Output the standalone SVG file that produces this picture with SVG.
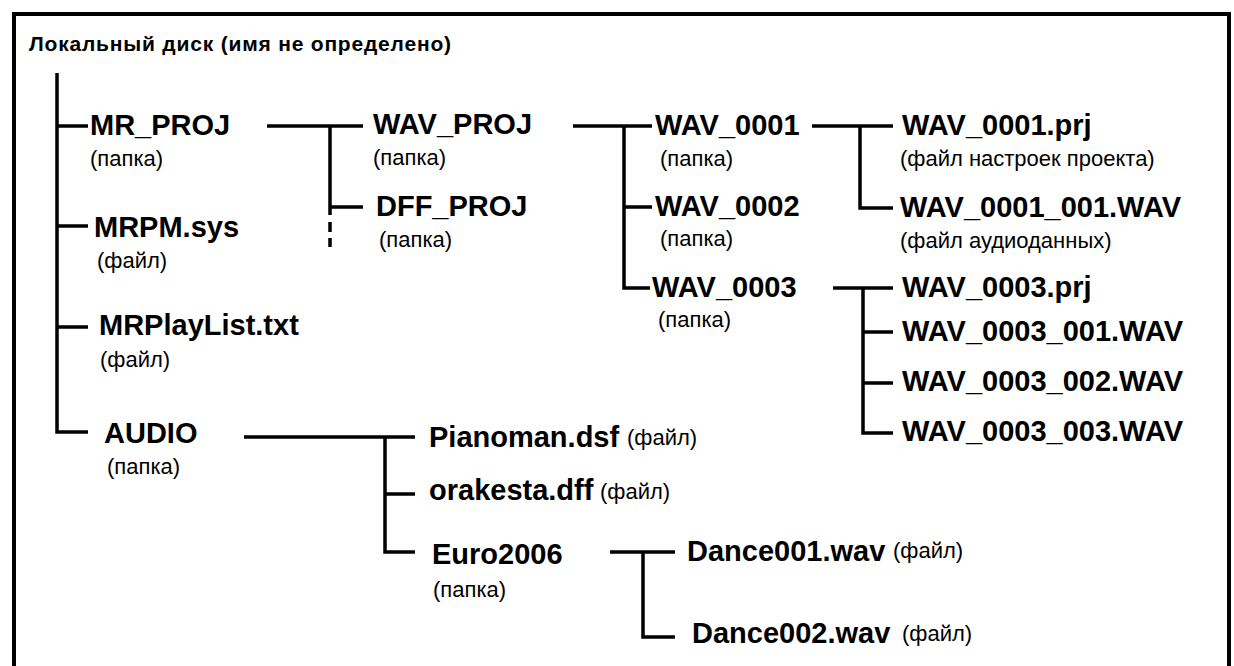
<svg xmlns="http://www.w3.org/2000/svg" width="1234" height="666" viewBox="0 0 1234 666">
<style>
.frame{fill:#fff;stroke:#000;stroke-width:4}
.ln{fill:none;stroke:#000;stroke-width:3.5;stroke-linejoin:miter;stroke-linecap:butt}
.title{font-family:"Liberation Sans",Arial,sans-serif;font-weight:bold;font-size:21px;letter-spacing:0.8px;fill:#000}
.nm{font-family:"Liberation Sans",Arial,sans-serif;font-weight:bold;font-size:29px;fill:#000}
.sub{font-family:"Liberation Sans",Arial,sans-serif;font-size:22px;fill:#000}
</style>
<rect class="frame" x="14" y="14" width="1215" height="700"/>
<text class="title" x="29" y="51">Локальный диск (имя не определено)</text>
<g id="connectors">
<path class="ln" d="M57,73 V432 H88 M57,126 H88 M57,226 H88 M57,327 H88"/>
<path class="ln" d="M267,126 H363 M330,126 V207 H363 M330,207 V215 M330,222 V232 M330,238 V247"/>
<path class="ln" d="M573,126 H652 M624,126 V288 H650 M624,207 H652"/>
<path class="ln" d="M812,126 H893 M860,126 V208 H893"/>
<path class="ln" d="M833,288 H893 M863,288 V433 H893 M863,332 H893 M863,383 H893"/>
<path class="ln" d="M244,437 H415 M385,437 V552 H415 M385,494 H415"/>
<path class="ln" d="M610,552 H675 M643,552 V637 H675"/>
</g>
<g id="mr_proj"><text class="nm" x="90" y="135">MR_PROJ</text><text class="sub" x="90" y="166">(папка)</text></g>
<g id="mrpm_sys"><text class="nm" x="94" y="237">MRPM.sys</text><text class="sub" x="97" y="268">(файл)</text></g>
<g id="mrplaylist"><text class="nm" x="99" y="335">MRPlayList.txt</text><text class="sub" x="100" y="367">(файл)</text></g>
<g id="audio"><text class="nm" x="104" y="443">AUDIO</text><text class="sub" x="107" y="474">(папка)</text></g>
<g id="wav_proj"><text class="nm" x="373" y="134">WAV_PROJ</text><text class="sub" x="373" y="165">(папка)</text></g>
<g id="dff_proj"><text class="nm" x="376" y="216">DFF_PROJ</text><text class="sub" x="379" y="247">(папка)</text></g>
<g id="wav_0001"><text class="nm" x="655" y="135">WAV_0001</text><text class="sub" x="660" y="166">(папка)</text></g>
<g id="wav_0002"><text class="nm" x="655" y="216">WAV_0002</text><text class="sub" x="660" y="246">(папка)</text></g>
<g id="wav_0003"><text class="nm" x="652" y="297">WAV_0003</text><text class="sub" x="658" y="327">(папка)</text></g>
<g id="wav_0001_prj"><text class="nm" x="902" y="135">WAV_0001.prj</text><text class="sub" x="900" y="166">(файл настроек проекта)</text></g>
<g id="wav_0001_001"><text class="nm" x="900" y="217">WAV_0001_001.WAV</text><text class="sub" x="900" y="248">(файл аудиоданных)</text></g>
<g id="wav_0003_prj"><text class="nm" x="902" y="297">WAV_0003.prj</text></g>
<g id="wav_0003_001"><text class="nm" x="902" y="341">WAV_0003_001.WAV</text></g>
<g id="wav_0003_002"><text class="nm" x="902" y="391">WAV_0003_002.WAV</text></g>
<g id="wav_0003_003"><text class="nm" x="902" y="441">WAV_0003_003.WAV</text></g>
<g id="pianoman"><text class="nm" x="429" y="447">Pianoman.dsf</text><text class="sub" x="627" y="445">(файл)</text></g>
<g id="orakesta"><text class="nm" x="429" y="500">orakesta.dff</text><text class="sub" x="600" y="499">(файл)</text></g>
<g id="euro2006"><text class="nm" x="432" y="564">Euro2006</text><text class="sub" x="433" y="597">(папка)</text></g>
<g id="dance001"><text class="nm" x="687" y="561">Dance001.wav</text><text class="sub" x="893" y="558">(файл)</text></g>
<g id="dance002"><text class="nm" x="692" y="643">Dance002.wav</text><text class="sub" x="902" y="641">(файл)</text></g>
</svg>
